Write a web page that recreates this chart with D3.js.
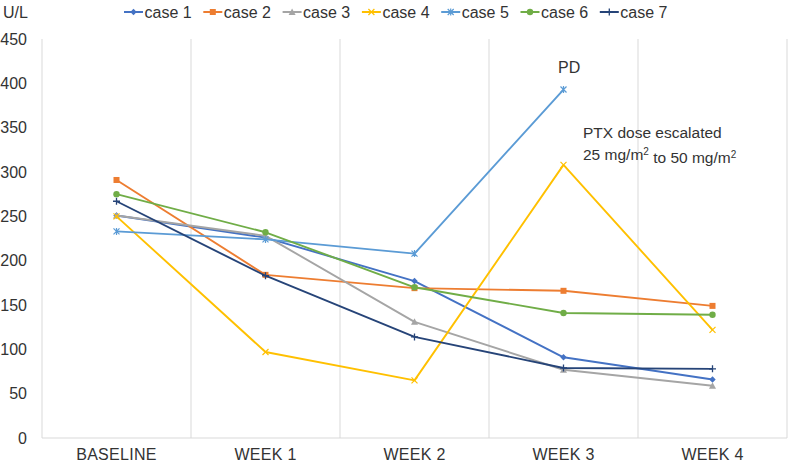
<!DOCTYPE html>
<html><head><meta charset="utf-8">
<script src="https://cdn.jsdelivr.net/npm/d3@7"></script>
<style>body{margin:0;background:#fff}svg{display:block;font-family:"Liberation Sans",Arial,sans-serif}</style>
</head><body><svg id="c" width="790" height="467"></svg>
<script>
const categories = ["BASELINE","WEEK 1","WEEK 2","WEEK 3","WEEK 4"];
const seriesNames = ["case 1","case 2","case 3","case 4","case 5","case 6","case 7"];
const case1 = [251,226,177,91,66];
const case2 = [291,184,169,166,149];
const case3 = [251,228,131,77,59];
const case4 = [250,97,65,308,122];
const case5 = [233,224,208,393,null];
const case6 = [275,232,170,141,139];
const case7 = [267,183,114,79,78];
const yTicks = [0,50,100,150,200,250,300,350,400,450];
const colors = ["#4472C4","#ED7D31","#A5A5A5","#FFC000","#5B9BD5","#70AD47","#264478"];
const markers = ["diamond","square","triangle","x","star","circle","plus"];
const values = [case1,case2,case3,case4,case5,case6,case7];
const textColor = "#333333";

const svg = d3.select("#c");
const x = d3.scaleBand().domain(categories).range([42,787]);
const y = d3.scaleLinear().domain([0,450]).range([438,39]);

// vertical gridlines
const bounds = categories.map(c=>x(c)).concat([x.range()[1]]);
svg.append("g").selectAll("line").data(bounds).join("line")
  .attr("x1",d=>d).attr("x2",d=>d).attr("y1",y(450)).attr("y2",y(0))
  .attr("stroke","#d9d9d9").attr("stroke-width",1);
svg.append("line").attr("x1",42).attr("x2",787).attr("y1",y(0)).attr("y2",y(0)).attr("stroke","#d9d9d9");

// y axis labels
const yAxis = d3.axisLeft(y).tickValues(yTicks).tickSize(0).tickPadding(0);
const gy = svg.append("g").attr("transform","translate(27,0)").call(yAxis);
gy.select(".domain").remove();
gy.selectAll("text").attr("font-size",16).attr("fill",textColor).attr("font-family","Liberation Sans, Arial, sans-serif");

// x axis labels
const xAxis = d3.axisBottom(x).tickSize(0).tickPadding(0);
const gx = svg.append("g").attr("transform","translate(0,449)").call(xAxis);
gx.select(".domain").remove();
gx.selectAll("text").attr("font-size",16).attr("fill",textColor).attr("dy","0.71em").attr("letter-spacing","0.3px").attr("font-family","Liberation Sans, Arial, sans-serif");

function drawMarker(g, type, cx, cy, color){
  const s = 3.2;
  if(type==="diamond"){
    g.append("path").attr("d",`M${cx},${cy-s}L${cx+s},${cy}L${cx},${cy+s}L${cx-s},${cy}Z`).attr("fill",color);
  } else if(type==="square"){
    g.append("rect").attr("x",cx-3).attr("y",cy-3).attr("width",6).attr("height",6).attr("fill",color);
  } else if(type==="triangle"){
    g.append("path").attr("d",`M${cx},${cy-3.5}L${cx+3.5},${cy+3}L${cx-3.5},${cy+3}Z`).attr("fill",color);
  } else if(type==="x"){
    g.append("path").attr("d",`M${cx-3},${cy-3}L${cx+3},${cy+3}M${cx+3},${cy-3}L${cx-3},${cy+3}`).attr("stroke",color).attr("stroke-width",1.2);
  } else if(type==="star"){
    g.append("path").attr("d",`M${cx-3},${cy-3}L${cx+3},${cy+3}M${cx+3},${cy-3}L${cx-3},${cy+3}M${cx},${cy-3.5}L${cx},${cy+3.5}`).attr("stroke",color).attr("stroke-width",1.2);
  } else if(type==="circle"){
    g.append("circle").attr("cx",cx).attr("cy",cy).attr("r",3.2).attr("fill",color);
  } else if(type==="plus"){
    g.append("path").attr("d",`M${cx-3.5},${cy}L${cx+3.5},${cy}M${cx},${cy-3.5}L${cx},${cy+3.5}`).attr("stroke",color).attr("stroke-width",1.3);
  }
}

const cx = c => x(c) + x.bandwidth()/2;
const line = d3.line().defined(d=>d.v!=null).x(d=>cx(d.c)).y(d=>y(d.v));
values.forEach((vals,i)=>{
  const pts = categories.map((c,j)=>({c, v: vals[j]}));
  const g = svg.append("g");
  g.append("path").datum(pts).attr("d",line).attr("fill","none").attr("stroke",colors[i]).attr("stroke-width",1.9).attr("stroke-linejoin","round");
  pts.filter(p=>p.v!=null).forEach(p=>drawMarker(g, markers[i], cx(p.c), y(p.v), colors[i]));
});

// legend
const lg = svg.append("g");
seriesNames.forEach((n,i)=>{
  const lx = 124 + i*79.3, ly = 12;
  lg.append("line").attr("x1",lx).attr("x2",lx+19).attr("y1",ly).attr("y2",ly).attr("stroke",colors[i]).attr("stroke-width",2);
  drawMarker(lg, markers[i], lx+9.5, ly, colors[i]);
  lg.append("text").attr("x",lx+20.5).attr("y",ly).attr("dy","0.35em").attr("font-size",16).attr("fill",textColor).text(n);
});

// unit label
svg.append("text").attr("x",3).attr("y",12).attr("dy","0.35em").attr("font-size",16).attr("fill",textColor).text("U/L");

// annotations
svg.append("text").attr("x",558).attr("y",67).attr("dy","0.35em").attr("font-size",16).attr("fill",textColor).text("PD");
const t1 = svg.append("text").attr("x",583).attr("y",133).attr("dy","0.35em").attr("font-size",15.5).attr("fill",textColor).text("PTX dose escalated");
const t2 = svg.append("text").attr("x",583).attr("y",155).attr("dy","0.35em").attr("font-size",15.5).attr("fill",textColor);
t2.append("tspan").text("25 mg/m");
t2.append("tspan").attr("font-size",10).attr("dy","-0.5em").text("2");
t2.append("tspan").attr("dy","0.5em").text(" to 50 mg/m");
t2.append("tspan").attr("font-size",10).attr("dy","-0.5em").text("2");
</script></body></html>
